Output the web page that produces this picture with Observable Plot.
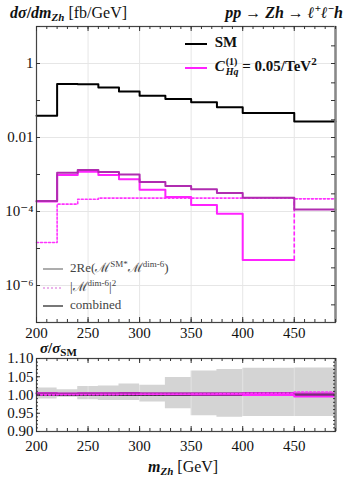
<!DOCTYPE html>
<html><head><meta charset="utf-8">
<script src="https://cdn.jsdelivr.net/npm/d3@7"></script>
<script src="https://cdn.jsdelivr.net/npm/@observablehq/plot@0.6"></script>
<style>
html,body{margin:0;padding:0;background:#fff;width:352px;height:478px;overflow:hidden;}
#wrap{position:relative;width:352px;height:478px;font-family:"Liberation Serif","Times New Roman","DejaVu Serif",serif;color:#111;overflow:hidden;}
.abs{position:absolute;white-space:nowrap;line-height:1;}
.svgbox{position:absolute;left:0;display:block;max-width:none !important;}
.sub{font-size:11px;position:relative;top:3px;}
.sup{font-size:11px;position:relative;top:-6px;}
.leg2{font-size:13px;color:#444;}
.leg2 .s{font-size:9px;position:relative;top:-5px;}
</style></head><body><div id="wrap"></div>
<script>
// ---- data ----
const binEdges = [200,220,240,260,280,300,325,350,375,400,450,490];
const smXsec   = [0.039,0.278,0.275,0.226,0.176,0.135,0.110,0.089,0.066,0.046,0.027];
const interference = [1.85e-4,9.7e-4,1.19e-3,9.7e-4,7.4e-4,3.9e-4,2.47e-4,1.5e-4,8.7e-5,4.9e-6,-1.1e-4];
const squared  = [1.45e-5,1.58e-4,2.14e-4,2.3e-4,2.3e-4,2.3e-4,2.3e-4,2.3e-4,2.3e-4,2.3e-4,2.2e-4];
const combined = [1.93e-4,1.11e-3,1.32e-3,1.16e-3,1.0e-3,6.3e-4,4.9e-4,4.0e-4,3.16e-4,2.37e-4,1.13e-4];
const bandLow  = [0.989,0.994,0.987,0.985,0.985,0.981,0.962,0.943,0.939,0.941,0.941];
const bandHigh = [1.019,1.0145,1.023,1.0245,1.030,1.027,1.048,1.066,1.070,1.073,1.074];
const xTicks = [200,250,300,350,400,450];
const xMinorTicks = d3.range(200,491,10);
const yTicksMain = [1,0.01,1e-4,1e-6];
const yTickLabelsMain = ["1","0.01","10\u207B\u2074","10\u207B\u2076"];
const yDecades = [10,1,0.1,0.01,1e-3,1e-4,1e-5,1e-6,1e-7];
const yRightTicks = [3,1,0.3,0.1,0.03,0.01,3e-3,1e-3,3e-4,1e-4,3e-5,1e-5,3e-6,1e-6,3e-7];
const yTicksRatio = [0.90,0.95,1.00,1.05,1.10];
const yRatioMinor = d3.range(0.90,1.101,0.01);

// ---- helpers ----
function steps(vals, n = vals.length) {
  const pts = [];
  for (let i = 0; i < n; i++) pts.push({x: binEdges[i], y: vals[i]});
  pts.push({x: binEdges[n], y: vals[n - 1]});
  return pts;
}
function bandSteps() {
  const pts = bandLow.map((lo, i) => ({x: binEdges[i], lo, hi: bandHigh[i]}));
  pts.push({x: binEdges[bandLow.length], lo: bandLow[bandLow.length-1], hi: bandHigh[bandHigh.length-1]});
  return pts;
}
const ratioOf = arr => arr.map((v, i) => 1 + v / smXsec[i]);

const FONT = "Liberation Serif, Times New Roman, DejaVu Serif, serif";
const C_COMB = "#b02cb0", C_INT = "#ff22ff", C_SQ = "#ff33ff";
const wrap = document.getElementById("wrap");
const txt = {fontFamily: FONT, fontSize: 15, fill: "#111"};

function place(svg, top, h) {
  svg.classList.add("svgbox");
  svg.style.top = top + "px";
  svg.style.width = "352px";
  svg.style.height = h + "px";
  wrap.appendChild(svg);
}

// ---- main panel ----
const M = {top: 26, bottom: 18, left: 36, right: 17, h: 340};
const fhM = M.h - M.top - M.bottom, fwM = 352 - M.left - M.right;
const main = Plot.plot({
  width: 352, height: M.h,
  marginTop: M.top, marginBottom: M.bottom, marginLeft: M.left, marginRight: M.right,
  style: {fontFamily: FONT, fontSize: "15px", color: "#111", background: "transparent"},
  x: {domain: [200, 490]},
  y: {type: "log", domain: [1e-7, 10]},
  marks: [
    Plot.ruleX(xTicks.slice(1), {stroke: "#e6e6e6"}),
    Plot.ruleY(yTicksMain, {stroke: "#e6e6e6"}),
    Plot.line(steps(squared), {x: "x", y: "y", curve: "step-after", stroke: C_SQ, strokeWidth: 1.6, strokeDasharray: "2,2"}),
    Plot.ruleX([binEdges[10]], {x: d => d, y1: [interference[9]], y2: [squared[9]], stroke: C_INT, strokeWidth: 1.6, strokeDasharray: "4,2"}),
    Plot.line(steps(interference, 10), {x: "x", y: "y", curve: "step-after", stroke: C_INT, strokeWidth: 2}),
    Plot.line(steps(combined), {x: "x", y: "y", curve: "step-after", stroke: C_COMB, strokeWidth: 2}),
    Plot.line(steps(smXsec), {x: "x", y: "y", curve: "step-after", stroke: "#000", strokeWidth: 2}),
    Plot.frame({stroke: "#444", strokeWidth: 1.2}),
    Plot.ruleX([490], {stroke: "#888", strokeWidth: 2.5}),
    Plot.tickX(xMinorTicks, {x: d => d, insetTop: fhM - 3, stroke: "#333"}),
    Plot.tickX(xMinorTicks, {x: d => d, insetBottom: fhM - 3, stroke: "#333"}),
    Plot.tickX(xTicks, {x: d => d, insetTop: fhM - 5, stroke: "#333"}),
    Plot.tickX(xTicks, {x: d => d, insetBottom: fhM - 5, stroke: "#333"}),
    Plot.tickY(yDecades, {y: d => d, insetRight: fwM - 4, stroke: "#333"}),
    Plot.tickY(yRightTicks, {y: d => d, insetLeft: fwM - 4, stroke: "#333"}),
    Plot.axisX(xTicks, {anchor: "bottom", tickSize: 0, tickPadding: 5, label: null, ...txt, tickFormat: d => String(d)}),
    Plot.axisY(yTicksMain, {anchor: "left", tickSize: 0, tickPadding: 3, label: null, ...txt,
      tickFormat: d => yTickLabelsMain[yTicksMain.indexOf(d)]})
  ]
});
place(main, 0, M.h);

// ---- ratio panel ----
const R = {top: 18, bottom: 47, left: 36, right: 17, h: 138, y0: 340};
const fhR = R.h - R.top - R.bottom, fwR = 352 - R.left - R.right;
const ratio = Plot.plot({
  width: 352, height: R.h,
  marginTop: R.top, marginBottom: R.bottom, marginLeft: R.left, marginRight: R.right,
  style: {fontFamily: FONT, fontSize: "15px", color: "#111", background: "transparent"},
  x: {domain: [200, 490]},
  y: {domain: [0.90, 1.10]},
  marks: [
    Plot.areaY(bandSteps(), {x: "x", y1: "lo", y2: "hi", curve: "step-after", fill: "#d4d4d4"}),
    Plot.ruleX(xTicks.slice(1), {stroke: "#ffffff", strokeOpacity: 0.35}),
    Plot.ruleY([1], {stroke: "#000", strokeWidth: 1.6}),
    Plot.line(steps(ratioOf(interference)), {x: "x", y: "y", curve: "step-after", stroke: C_INT, strokeWidth: 2}),
    Plot.line(steps(ratioOf(combined)), {x: "x", y: "y", curve: "step-after", stroke: C_COMB, strokeWidth: 2}),
    Plot.line(steps(ratioOf(squared)), {x: "x", y: "y", curve: "step-after", stroke: C_SQ, strokeWidth: 1.6, strokeDasharray: "2,2"}),
    Plot.frame({stroke: "#444", strokeWidth: 1.2}),
    Plot.ruleX([490], {stroke: "#888", strokeWidth: 2.5}),
    Plot.tickX(xMinorTicks, {x: d => d, insetTop: fhR - 3, stroke: "#333"}),
    Plot.tickX(xMinorTicks, {x: d => d, insetBottom: fhR - 3, stroke: "#333"}),
    Plot.tickX(xTicks, {x: d => d, insetTop: fhR - 5, stroke: "#333"}),
    Plot.tickX(xTicks, {x: d => d, insetBottom: fhR - 5, stroke: "#333"}),
    Plot.tickY(yRatioMinor, {y: d => d, insetRight: fwR - 2, stroke: "#333"}),
    Plot.tickY(yRatioMinor, {y: d => d, insetLeft: fwR - 2, stroke: "#333"}),
    Plot.tickY(yTicksRatio, {y: d => d, insetRight: fwR - 4, stroke: "#333"}),
    Plot.axisX(xTicks, {anchor: "bottom", tickSize: 0, tickPadding: 9, label: null, ...txt, tickFormat: d => String(d)}),
    Plot.axisY(yTicksRatio, {anchor: "left", tickSize: 0, tickPadding: 3, label: null, ...txt, tickFormat: d3.format(".2f")})
  ]
});
place(ratio, R.y0, R.h);

// ---- text overlays ----
function add(html, css, cls) {
  const d = document.createElement("div");
  d.className = "abs" + (cls ? " " + cls : "");
  d.innerHTML = html;
  Object.assign(d.style, css);
  wrap.appendChild(d);
  return d;
}
add('<b><i>d\u03C3</i>/<i>dm</i><span class="sub"><b><i>Zh</i></b></span></b> [fb/GeV]', {left: "10px", top: "5px", fontSize: "16px"});
add('<b><i>pp</i> \u2192 <i>Zh</i> \u2192 <i>\u2113</i><span class="sup">+</span><i>\u2113</i><span class="sup">\u2212</span><i>h</i></b>', {right: "9px", top: "5px", fontSize: "16px"});

// top-right legend
add('<svg width="24" height="4" style="vertical-align:middle"><line x1="0" y1="2" x2="22" y2="2" stroke="#000" stroke-width="2"/></svg> <b style="margin-left:2px">SM</b>',
    {left: "185px", top: "35px", fontSize: "15px"});
add('<svg width="24" height="4" style="vertical-align:middle"><line x1="0" y1="2" x2="22" y2="2" stroke="' + C_INT + '" stroke-width="2"/></svg> ' +
    '<b style="margin-left:2px"><i>C</i><span style="display:inline-block;vertical-align:middle;font-size:10px;line-height:10px;text-align:left;margin-left:1px;position:relative;top:-1px">(1)<br><i>Hq</i></span> = 0.05/TeV<span class="sup">2</span></b>',
    {left: "185px", top: "58px", fontSize: "15px"});

// bottom-left legend
add('<svg width="27" height="4" style="vertical-align:middle"><line x1="0" y1="2" x2="20" y2="2" stroke="#999" stroke-width="1.6"/></svg>2Re(\u2133<span class="s">SM*</span>\u2133<span class="s">dim-6</span>)',
    {left: "43px", top: "261px"}, "leg2");
add('<svg width="27" height="4" style="vertical-align:middle"><line x1="0" y1="2" x2="20" y2="2" stroke="#e59be5" stroke-width="1.4" stroke-dasharray="2,2"/></svg>|\u2133<span class="s">dim-6</span>|<span class="s">2</span>',
    {left: "43px", top: "280px"}, "leg2");
add('<svg width="27" height="4" style="vertical-align:middle"><line x1="0" y1="2" x2="20" y2="2" stroke="#555" stroke-width="1.6"/></svg>combined',
    {left: "43px", top: "298px"}, "leg2");

// ratio panel titles
add('<b><i>\u03C3</i>/<i>\u03C3</i><span class="sub"><b>SM</b></span></b>', {left: "40px", top: "341px", fontSize: "15px"});
add('<b><i>m</i><span class="sub"><b><i>Zh</i></b></span></b> [GeV]', {left: "148px", top: "459px", fontSize: "16px"});
</script></body></html>
